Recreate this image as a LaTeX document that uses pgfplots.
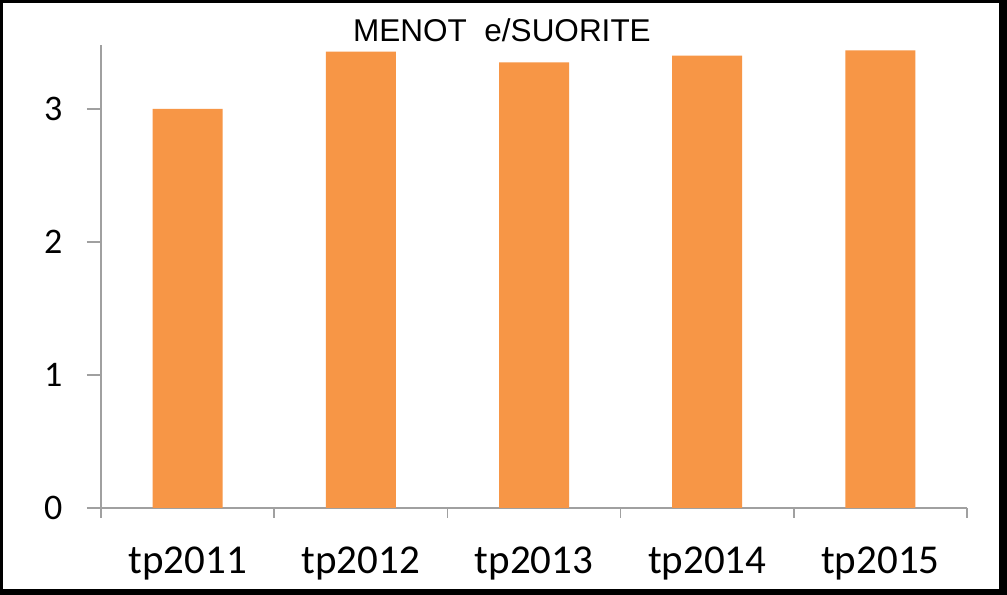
\documentclass[border=0pt]{standalone}
\usepackage{fontspec}
\setmainfont{Carlito}
\newfontfamily\arialf{Liberation Sans}
\usepackage{pgfplots}
\pgfplotsset{compat=1.18}
\definecolor{barorange}{RGB}{247,150,70}
\definecolor{axgray}{RGB}{160,160,160}
\begin{document}
\begin{tikzpicture}[x=1bp,y=1bp]
\useasboundingbox (0,0) rectangle (1007,595);
\fill[black] (0,0) rectangle (1007,595);
\fill[white] (3,6) rectangle (999,592);
\begin{axis}[at={(101bp,87bp)}, anchor=south west, scale only axis,
  width=866bp, height=463bp,
  xmin=-0.5, xmax=4.5, ymin=0, ymax=3.48,
  axis x line*=bottom, axis y line*=left,
  axis line style={draw=axgray, line width=1.5bp, -},
  xtick={0,1,2,3,4},
  xticklabels={tp2011,tp2012,tp2013,tp2014,tp2015},
  minor xtick={-0.5,0.5,1.5,2.5,3.5,4.5},
  ytick={0,1,2,3},
  tick align=outside, major tick length=14bp, minor tick length=10bp,
  tick style={axgray, line width=1.5bp},
  major x tick style={draw=none},
  /pgf/number format/assume math mode=true,
  xticklabel style={font=\fontsize{41bp}{48bp}\selectfont, anchor=base, yshift=-52bp},
  yticklabel style={font=\fontsize{36bp}{42bp}\selectfont, anchor=east, xshift=-21bp},
  clip=false,
]
\addplot[ybar, bar width=70bp, fill=barorange, draw=none] coordinates {(0,3.00) (1,3.43) (2,3.35) (3,3.40) (4,3.44)};
\end{axis}
\node[anchor=base, inner sep=0pt, font=\arialf\fontsize{31.5bp}{36bp}\selectfont] at (502,553) {MENOT\ \ e/SUORITE};
\end{tikzpicture}
\end{document}
